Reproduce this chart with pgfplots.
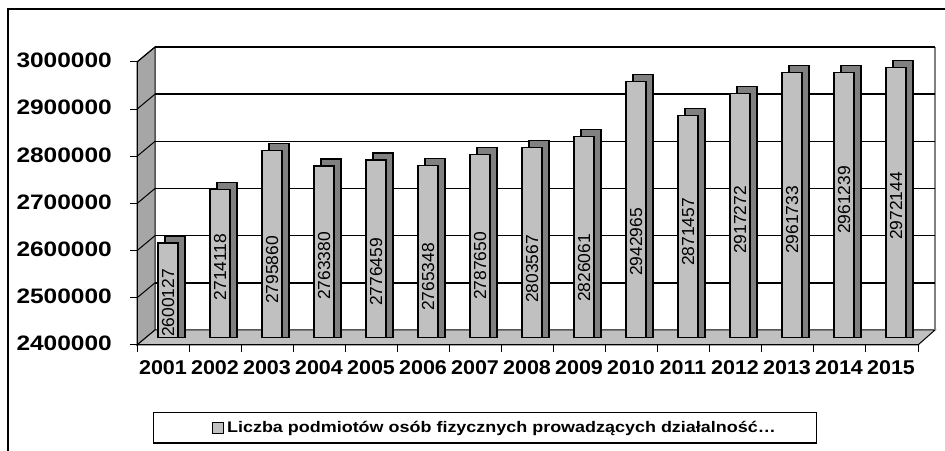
\documentclass[border=0pt]{standalone}
\usepackage{fontspec}
\setmainfont{Liberation Sans}
\newfontfamily\wide[FakeStretch=1.17]{Liberation Sans}
\newfontfamily\wider[FakeStretch=1.08]{Liberation Sans}
\usepackage{pgfplots}
\usepackage{pgfplotstable}
\pgfplotsset{compat=1.18}
\definecolor{barface}{HTML}{C0C0C0}
\definecolor{barside}{HTML}{808080}
\definecolor{wallgray}{HTML}{A6A6A6}

\pgfplotstableread{
x v ly lab
0 2600127 2473144 2600127
1 2714118 2549468 2714118
2 2795860 2543107 2795860
3 2763380 2551587 2763380
4 2776459 2538867 2776459
5 2765348 2528269 2765348
6 2787650 2551587 2787650
7 2803567 2545229 2803567
8 2826061 2547350 2826061
9 2942965 2602473 2942965
10 2871457 2623675 2871457
11 2917272 2649117 2917272
12 2961733 2649117 2961733
13 2961239 2691519 2961239
14 2972144 2678799 2972144
}\data

\begin{document}
\begin{tikzpicture}
\begin{scope}[x=1bp,y=1bp]
\useasboundingbox (0,0) rectangle (945,451);
% outer frame
\draw[line width=1.5bp] (8,0) -- (8,442) -- (945,442);
% left wall
\filldraw[fill=wallgray, draw=black, line width=1bp] (137,106) -- (155,121) -- (155,404) -- (137,389) -- cycle;
% floor
\filldraw[fill=barface, draw=black, line width=1bp] (137,106) -- (155,121) -- (935,121) -- (918,106) -- cycle;
% right edge of back wall
\draw[barside, line width=1.5bp] (935,121) -- (935,404);
% gridlines and wall diagonals
\foreach \k in {1,...,6} {
  \pgfmathsetmacro\yb{121+47.1667*\k}
  \pgfmathsetmacro\yf{106+47.1667*\k}
  \draw[line width=1.5bp] (155,\yb) -- (935,\yb);
  \draw[line width=1bp] (137,\yf) -- (155,\yb);
}
% front axes and ticks
\draw[line width=1bp] (137,106) -- (137,389);
\foreach \k in {0,...,6} {
  \pgfmathsetmacro\yf{106+47.1667*\k}
  \draw[line width=1bp] (130,\yf) -- (137,\yf);
}
\draw[line width=1bp] (137,106) -- (918,106);
\foreach \i in {0,...,15} {
  \pgfmathsetmacro\xf{137+52.067*\i}
  \draw[line width=1bp] (\xf,106) -- (\xf,99);
}
\end{scope}
\begin{axis}[
  at={(146bp,113.5bp)}, anchor=south west,
  scale only axis, width=780bp, height=283bp,
  xmin=-0.5, xmax=14.5, ymin=2400000, ymax=3000000,
  scaled y ticks=false,
  axis line style={draw=none}, tick style={draw=none}, major tick length=0pt,
  xtick={0,...,14},
  xticklabels={2001,2002,2003,2004,2005,2006,2007,2008,2009,2010,2011,2012,2013,2014,2015},
  ytick={2400000,2500000,2600000,2700000,2800000,2900000,3000000},
  yticklabels={2400000,2500000,2600000,2700000,2800000,2900000,3000000},
  xticklabel style={anchor=north, inner sep=0pt, xshift=-9bp, yshift=-22.5bp,
    font=\wider\bfseries\fontsize{20}{20}\selectfont},
  yticklabel style={anchor=east, inner sep=0pt, xshift=-34bp, yshift=-6bp,
    font=\wide\bfseries\fontsize{21}{21}\selectfont},
  legend style={at={(0.0086,-0.2622)}, anchor=north west, draw=black, line width=1.2bp,
    inner xsep=0pt, inner ysep=9bp, column sep=0pt, nodes={inner sep=0pt},
    font=\wide\bfseries\fontsize{15.4}{15.4}\selectfont},
  legend image code/.code={
    \path[draw=none, fill=none] (0bp,0bp) -- (59.3bp,0bp);
    \draw[fill=barface, draw=black, line width=1bp] (59.3bp,-5.5bp) rectangle (70.3bp,5.5bp);
  },
]
\addplot[ybar, bar width=20bp, bar shift=3bp, fill=barside, draw=black, line width=1.2bp, forget plot]
  table[x=x, y expr=\thisrow{v}+14841]{\data};
\addplot[ybar, bar width=20bp, bar shift=-4bp, fill=barface, draw=black, line width=1.2bp]
  table[x=x, y=v]{\data};
\addlegendentry{\hspace{3bp}\makebox[589bp][l]{Liczba podmiotów osób fizycznych prowadzących działalność…}}
\addplot[draw=none, mark=none, forget plot, nodes near coords, point meta=explicit symbolic,
  nodes near coords align={center},
  nodes near coords style={rotate=90, anchor=center, inner sep=0pt,
    font=\fontsize{17.5}{17.5}\selectfont}]
  table[x expr=\thisrow{x}-0.077, y=ly, meta=lab]{\data};
\end{axis}
\end{tikzpicture}
\end{document}
